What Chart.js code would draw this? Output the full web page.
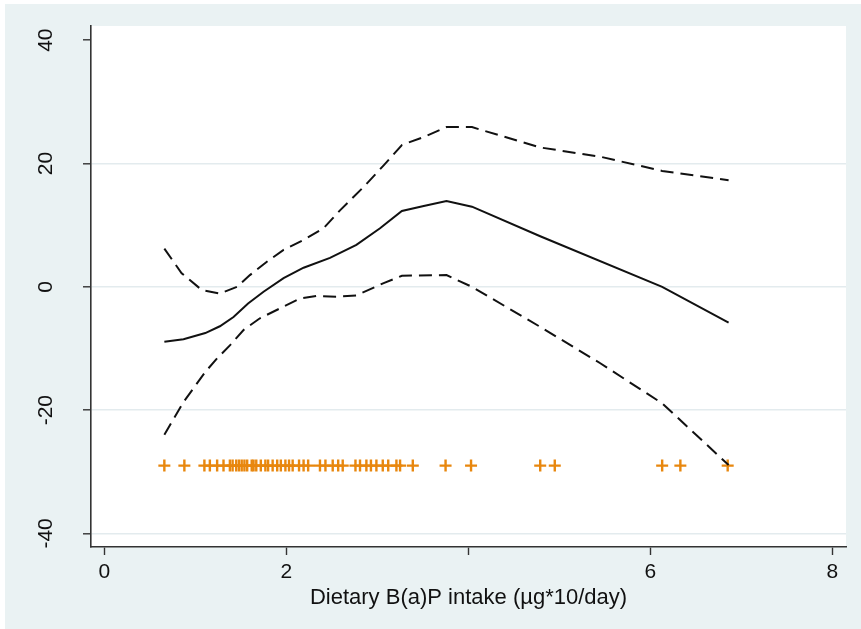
<!DOCTYPE html>
<html>
<head>
<meta charset="utf-8">
<script src="https://cdn.jsdelivr.net/npm/chart.js@4"></script>
<style>
  html, body { margin: 0; padding: 0; background: #ffffff; }
  #chart { display: block; }
</style>
</head>
<body>
<canvas id="chart" width="861" height="629"></canvas>
<script>
// Fitted curve (solid)
const fitX = [0.66, 0.87, 1.11, 1.27, 1.42, 1.58, 1.75, 1.97, 2.19, 2.48, 2.77, 3.03, 3.27, 3.51, 3.76, 4.04, 4.79, 6.13, 6.86];
const fitY = [-8.9, -8.5, -7.5, -6.4, -4.9, -2.7, -0.8, 1.4, 3.1, 4.7, 6.8, 9.5, 12.3, 13.1, 13.9, 13.0, 8.2, 0.0, -5.8];

// Upper confidence band (dashed)
const upperX = [0.66, 0.85, 1.07, 1.27, 1.46, 1.60, 1.79, 1.97, 2.19, 2.41, 2.59, 2.85, 3.07, 3.27, 3.51, 3.76, 4.04, 4.79, 5.45, 6.13, 6.86];
const upperY = [6.2, 2.2, -0.5, -1.1, 0.0, 1.9, 4.1, 6.0, 7.6, 9.5, 12.4, 16.2, 19.7, 23.0, 24.3, 25.9, 25.9, 22.6, 21.1, 18.8, 17.3];

// Lower confidence band (dashed)
const lowerX = [0.66, 0.87, 1.11, 1.24, 1.38, 1.53, 1.71, 1.93, 2.15, 2.33, 2.55, 2.77, 3.07, 3.27, 3.76, 4.04, 4.79, 5.45, 6.13, 6.86];
const lowerY = [-24.0, -18.7, -13.8, -11.6, -9.5, -7.0, -5.1, -3.5, -1.9, -1.5, -1.6, -1.4, 0.6, 1.8, 1.9, 0.0, -6.5, -12.4, -18.9, -28.9];

// Observed intake values (rug of + markers)
const rugX = [0.66, 0.88, 1.10, 1.16, 1.24, 1.31, 1.38, 1.41, 1.45, 1.48, 1.51, 1.54, 1.57, 1.62, 1.64, 1.67,
              1.72, 1.77, 1.80, 1.85, 1.90, 1.94, 1.99, 2.03, 2.07, 2.14, 2.19, 2.24, 2.37, 2.43, 2.51, 2.57,
              2.62, 2.76, 2.81, 2.88, 2.93, 2.99, 3.06, 3.12, 3.21, 3.25, 3.39, 3.75, 4.03, 4.79, 4.95, 6.13,
              6.33, 6.85];
const rugLevel = -29;

// Axis ticks (the reference shows no label under 4)
const xTicks = [0, 2, 4, 6, 8];
const xTickLabels = ['0', '2', '', '6', '8'];
const yTicks = [-40, -20, 0, 20, 40];
const xTitle = 'Dietary B(a)P intake (µg*10/day)';

const font = '"Liberation Sans", Arial, sans-serif';

function toPoints(xs, ys) {
    return xs.map((x, i) => ({ x: x, y: ys[i] }));
}

// Fond de la figure et zone de tracé
const backdrop = {
    id: 'backdrop',
    beforeDraw(chart) {
        const { ctx, chartArea: a } = chart;
        ctx.save();
        ctx.fillStyle = '#ffffff';
        ctx.fillRect(0, 0, chart.width, chart.height);
        ctx.fillStyle = '#eaf2f3';
        ctx.fillRect(5, 4, chart.width - 5, chart.height - 4);
        ctx.fillStyle = '#ffffff';
        ctx.fillRect(a.left, a.top, a.right - a.left, a.bottom - a.top);
        ctx.restore();
    }
};

// Étiquettes verticales de l'axe Y
const yLabels = {
    id: 'yLabels',
    afterDraw(chart) {
        const { ctx } = chart;
        const s = chart.scales.y;
        ctx.save();
        ctx.font = '21px ' + font;
        ctx.fillStyle = '#111111';
        ctx.textAlign = 'center';
        ctx.textBaseline = 'middle';
        s.ticks.forEach(t => {
            const py = s.getPixelForValue(t.value);
            ctx.save();
            ctx.translate(46, py);
            ctx.rotate(-Math.PI / 2);
            ctx.fillText(String(t.value), 0, 0);
            ctx.restore();
        });
        ctx.restore();
    }
};

const ctx = document.getElementById('chart').getContext('2d');
new Chart(ctx, {
    type: 'line',
    data: {
        datasets: [
            {
                data: toPoints(upperX, upperY),
                borderColor: '#111111',
                borderWidth: 2,
                borderDash: [13, 7],
                pointRadius: 0,
                tension: 0
            },
            {
                data: toPoints(fitX, fitY),
                borderColor: '#111111',
                borderWidth: 2,
                pointRadius: 0,
                tension: 0
            },
            {
                data: toPoints(lowerX, lowerY),
                borderColor: '#111111',
                borderWidth: 2,
                borderDash: [13, 7],
                pointRadius: 0,
                tension: 0
            },
            {
                data: rugX.map(x => ({ x: x, y: rugLevel })),
                showLine: false,
                pointStyle: 'cross',
                pointRadius: 6,
                pointBorderWidth: 2.4,
                pointBorderColor: '#e8870e',
                pointBackgroundColor: '#e8870e'
            }
        ]
    },
    options: {
        responsive: false,
        animation: false,
        devicePixelRatio: 1,
        layout: { padding: { left: 0, top: 26, right: 15, bottom: 0 } },
        plugins: {
            legend: { display: false },
            tooltip: { enabled: false }
        },
        scales: {
            x: {
                type: 'linear',
                min: -0.146,
                max: 8.15,
                afterBuildTicks: s => { s.ticks = xTicks.map(v => ({ value: v })); },
                afterFit: s => { s.height = 82; },
                border: { display: true, color: '#333333', width: 1.6 },
                grid: {
                    drawOnChartArea: false,
                    drawTicks: true,
                    tickLength: 8,
                    tickColor: '#333333',
                    tickWidth: 1.4
                },
                ticks: {
                    color: '#111111',
                    font: { family: font, size: 21 },
                    padding: 5,
                    maxRotation: 0,
                    autoSkip: false,
                    callback: (v, i) => xTickLabels[i]
                },
                title: {
                    display: true,
                    text: xTitle,
                    color: '#111111',
                    font: { family: font, size: 22 },
                    padding: { top: 0, bottom: 18 }
                }
            },
            y: {
                type: 'linear',
                min: -42.2,
                max: 42.3,
                afterBuildTicks: s => { s.ticks = yTicks.map(v => ({ value: v })); },
                afterFit: s => { s.width = 91; },
                border: { display: true, color: '#333333', width: 1.6 },
                grid: {
                    color: c => (c.tick && c.tick.value === 40) ? 'rgba(0,0,0,0)' : '#e3ebee',
                    lineWidth: 1.6,
                    drawTicks: true,
                    tickLength: 8,
                    tickColor: '#333333',
                    tickWidth: 1.4
                },
                ticks: { display: false }
            }
        }
    },
    plugins: [backdrop, yLabels]
});
</script>
</body>
</html>
